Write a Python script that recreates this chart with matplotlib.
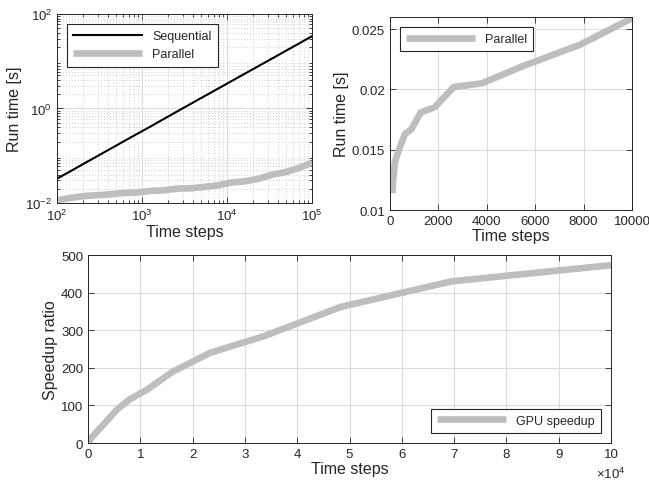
import numpy as np
import matplotlib
matplotlib.use("Agg")
import matplotlib.pyplot as plt
from matplotlib.ticker import FuncFormatter, LogLocator, NullFormatter

plt.rcParams['font.family'] = ['Liberation Sans', 'DejaVu Sans']
plt.rcParams['mathtext.fontset'] = 'custom'
plt.rcParams['mathtext.rm'] = 'Liberation Sans'
plt.rcParams['mathtext.it'] = 'Liberation Sans'

# time steps (log spaced, 20 points from 1e2 to 1e5)
steps = [100, 144, 207, 298, 428, 616, 886, 1274, 1833, 2637, 3793,
         5456, 7848, 11288, 16238, 23357, 33598, 48329, 69519, 100000]

# run times [s]
sequential = [0.0327, 0.047, 0.068, 0.098, 0.141, 0.204, 0.293, 0.42, 0.61, 0.88,
              1.27, 1.83, 2.63, 3.79, 5.46, 7.86, 11.3, 16.3, 23.5, 33.9]
parallel = [0.0114, 0.0128, 0.0140, 0.0146, 0.0153, 0.0163, 0.0167, 0.0181, 0.0185, 0.0202,
            0.0205, 0.0219, 0.0237, 0.0272, 0.0288, 0.0325, 0.0395, 0.0450, 0.0545, 0.0715]
speedup = [3, 4, 5, 7, 9, 13, 18, 23, 33, 44, 62, 88, 115, 142, 190, 240, 284, 362, 430, 473]

TXT = '#262626'
GRAY = '#bebebe'
GRID = '#dcdcdc'
LABEL_FS = 11.5
TICK_FS = 9.5
LEG_FS = 9


def style_axes(ax):
    for s in ax.spines.values():
        s.set_color(TXT)
        s.set_linewidth(0.7)
    ax.tick_params(which='both', direction='in', top=True, right=True,
                   colors=TXT, labelsize=TICK_FS, width=0.6)
    ax.tick_params(which='major', length=4)
    ax.tick_params(which='minor', length=2.5)
    ax.grid(True, which='major', color=GRID, linewidth=0.8)
    ax.set_axisbelow(True)


def style_legend(leg):
    fr = leg.get_frame()
    fr.set_edgecolor(TXT)
    fr.set_linewidth(0.8)
    for t in leg.get_texts():
        t.set_color(TXT)


fig = plt.figure(figsize=(6.49, 4.85), dpi=100)

# top left: log-log run times
ax1 = fig.add_axes([0.0878, 0.5794, 0.3929, 0.3897])
ax1.plot(steps, sequential, color='black', linewidth=1.5, label='Sequential')
ax1.plot(steps, parallel, color=GRAY, linewidth=4.8, label='Parallel', solid_capstyle='butt')
ax1.set_xscale('log')
ax1.set_yscale('log')
ax1.set_xlim(1e2, 1e5)
ax1.set_ylim(1e-2, 1e2)
ax1.set_xticks([1e2, 1e3, 1e4, 1e5])
ax1.set_yticks([1e-2, 1e0, 1e2])
ax1.yaxis.set_minor_locator(LogLocator(base=10, subs=np.arange(2, 10), numticks=20))
ax1.yaxis.set_minor_formatter(NullFormatter())
ax1.xaxis.set_minor_formatter(NullFormatter())
style_axes(ax1)
ax1.grid(True, which='minor', color='#c0c0c0', linewidth=0.6, linestyle=(0, (1, 2.5)))
ax1.set_xlabel('Time steps', fontsize=LABEL_FS, color=TXT, labelpad=1)
ax1.set_ylabel('Run time [s]', fontsize=LABEL_FS, color=TXT, labelpad=2)
leg1 = ax1.legend(loc='upper left', fontsize=LEG_FS, fancybox=False, framealpha=1,
                  handlelength=5.5, borderaxespad=0.8, borderpad=0.5, labelspacing=0.5)
style_legend(leg1)

# top right: parallel run time, linear
ax2 = fig.add_axes([0.6009, 0.5649, 0.3729, 0.398])
ax2.plot(steps, parallel, color=GRAY, linewidth=4.8, label='Parallel', solid_capstyle='butt')
ax2.set_xlim(0, 10000)
ax2.set_ylim(0.01, 0.026)
ax2.set_xticks(np.arange(0, 10001, 2000))
ax2.set_yticks([0.01, 0.015, 0.02, 0.025])
ax2.yaxis.set_major_formatter(FuncFormatter(lambda v, p: f"{v:g}"))
style_axes(ax2)
ax2.set_xlabel('Time steps', fontsize=LABEL_FS, color=TXT, labelpad=1)
ax2.set_ylabel('Run time [s]', fontsize=LABEL_FS, color=TXT, labelpad=2)
leg2 = ax2.legend(loc='upper left', fontsize=LEG_FS, fancybox=False, framealpha=1,
                  handlelength=5.5, borderaxespad=0.8, borderpad=0.5)
style_legend(leg2)

# bottom: speedup
ax3 = fig.add_axes([0.1356, 0.0845, 0.8059, 0.3876])
ax3.plot(steps, speedup, color=GRAY, linewidth=4.8, label='GPU speedup', solid_capstyle='butt')
ax3.set_xlim(0, 1e5)
ax3.set_ylim(0, 500)
ax3.set_xticks(np.arange(0, 100001, 10000))
ax3.set_yticks(np.arange(0, 501, 100))
ax3.xaxis.set_major_formatter(FuncFormatter(lambda v, p: f"{v / 1e4:g}"))
style_axes(ax3)
ax3.set_xlabel('Time steps', fontsize=LABEL_FS, color=TXT, labelpad=1)
ax3.set_ylabel('Speedup ratio', fontsize=LABEL_FS, color=TXT, labelpad=2)
ax3.text(1.0, -0.16, r'$\times10^{4}$', transform=ax3.transAxes, ha='center', va='center',
         fontsize=TICK_FS, color=TXT)
leg3 = ax3.legend(loc='lower right', fontsize=LEG_FS, fancybox=False, framealpha=1,
                  handlelength=5.5, borderaxespad=0.8, borderpad=0.5)
style_legend(leg3)

fig.savefig('out.png', dpi=100)
